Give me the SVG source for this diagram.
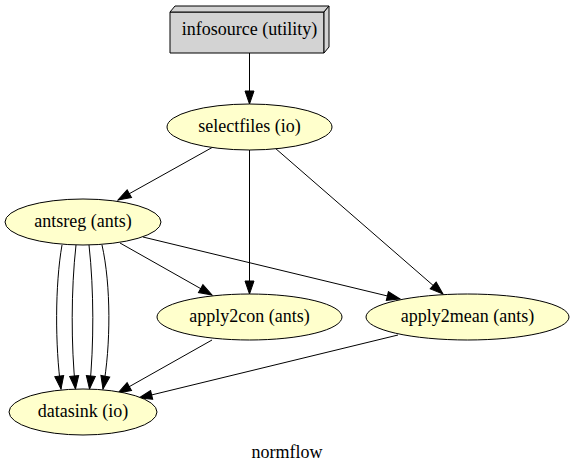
<svg xmlns="http://www.w3.org/2000/svg" width="575" height="473" viewBox="0 0 575 473">
<style>
.n ellipse{fill:#ffffcc;stroke:#000;stroke-width:1}
.b polygon{fill:#d3d3d3;stroke:#000;stroke-width:1;stroke-linejoin:miter}
text{font-family:"Liberation Serif","Times New Roman",serif;font-size:18px;text-anchor:middle;fill:#000}
.e path{fill:none;stroke:#000;stroke-width:1;marker-end:url(#ah)}
</style>
<defs>
<marker id="ah" markerUnits="userSpaceOnUse" markerWidth="15" markerHeight="11" viewBox="-1 -1 15 11" refX="13" refY="4.5" orient="auto">
<path d="M0,0 L13,4.5 L0,9 z" fill="#000" stroke="#000" stroke-width="1"/>
</marker>
</defs>
<rect width="575" height="473" fill="#fff"/>
<g id="edges" class="e">
<path d="M249.5,53 L249.5,104"/>
<path d="M213,147 L118,200"/>
<path d="M249.5,150 L249.5,294"/>
<path d="M275,148 L443,294"/>
<path d="M120,243 L212,295"/>
<path d="M143,237 L400,299"/>
<path d="M62,245 C55,285 55,345 61,389"/>
<path d="M76,245 C71,290 71,345 75.5,389"/>
<path d="M89,245 C94,290 94,345 89.5,389"/>
<path d="M102,245 C111,285 111,345 103,389"/>
<path d="M212,340 L118,393"/>
<path d="M398,335 L139,398"/>
</g>
<g id="infosource" class="b">
<polygon points="170,12 324,12 324,53 170,53"/>
<polygon points="170,12 175,6 329,6 324,12"/>
<polygon points="324,12 329,6 329,47 324,53"/>
<text x="249.5" y="35">infosource (utility)</text>
</g>
<g id="selectfiles" class="n">
<ellipse cx="249.5" cy="127" rx="82.5" ry="23"/>
<text x="249.5" y="132">selectfiles (io)</text>
</g>
<g id="antsreg" class="n">
<ellipse cx="83" cy="222" rx="78" ry="23"/>
<text x="83" y="227">antsreg (ants)</text>
</g>
<g id="apply2con" class="n">
<ellipse cx="249.5" cy="317" rx="92.5" ry="23"/>
<text x="249.5" y="322">apply2con (ants)</text>
</g>
<g id="apply2mean" class="n">
<ellipse cx="467.5" cy="317" rx="101.5" ry="23"/>
<text x="467.5" y="322">apply2mean (ants)</text>
</g>
<g id="datasink" class="n">
<ellipse cx="83" cy="412" rx="74" ry="23"/>
<text x="83" y="417">datasink (io)</text>
</g>
<text x="287" y="458">normflow</text>
</svg>
